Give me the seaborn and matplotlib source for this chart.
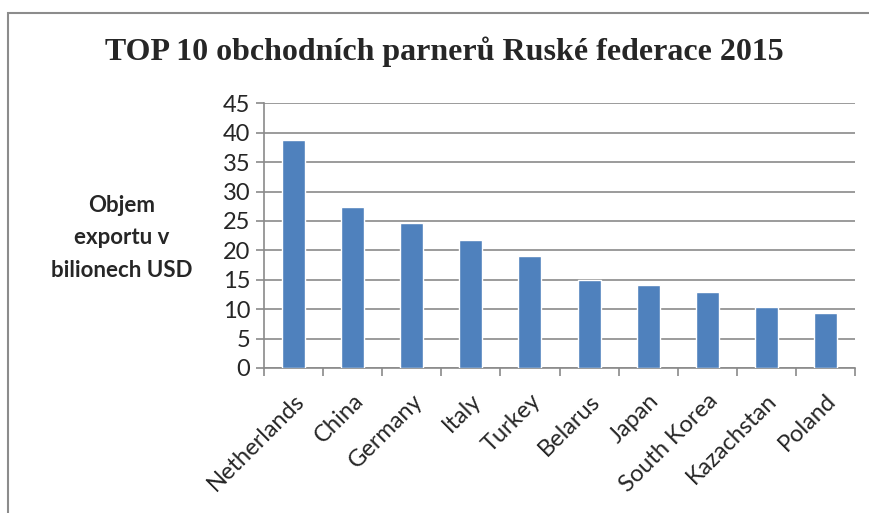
import matplotlib
matplotlib.use("Agg")
import matplotlib.pyplot as plt
import seaborn as sns
import pandas as pd
from matplotlib.patches import Rectangle

# data
countries = ["Netherlands", "China", "Germany", "Italy", "Turkey",
             "Belarus", "Japan", "South Korea", "Kazachstan", "Poland"]
export_bn = [38.7, 27.3, 24.6, 21.7, 19.1, 14.9, 14.1, 13.0, 10.4, 9.4]
y_ticks = [0, 5, 10, 15, 20, 25, 30, 35, 40, 45]

sns.set_theme(style="white")
plt.rcParams["font.family"] = ["Lato", "DejaVu Sans"]

df = pd.DataFrame({"country": countries, "value": export_bn})

fig = plt.figure(figsize=(8.7, 5.13), dpi=100)
ax = fig.add_axes([264 / 870, 1 - 368 / 513, 591 / 870, 264.7 / 513])

sns.barplot(data=df, x="country", y="value", color="#4F81BD", saturation=1,
            width=0.39, ax=ax, zorder=3)

ax.set_xlim(-0.5, len(countries) - 0.5)
ax.set_ylim(0, 45)
ax.set_yticks(y_ticks)
ax.set_yticklabels([str(t) for t in y_ticks], fontsize=17)
ax.yaxis.grid(True, color="#8a8a8a", linewidth=1.2, zorder=0)

# category boundary ticks below the axis
ax.set_xticks([i - 0.5 for i in range(len(countries) + 1)], minor=True)
ax.tick_params(axis="x", which="minor", length=6, width=1.2, color="#8a8a8a", bottom=True)
ax.set_xticks(range(len(countries)))
ax.set_xticklabels(countries, rotation=45, ha="right", va="top",
                   rotation_mode="anchor", fontsize=17)
ax.tick_params(axis="x", which="major", length=0, pad=16)
ax.tick_params(axis="y", length=6, width=1.2, color="#8a8a8a", left=True, pad=4)

for side in ["top", "right"]:
    ax.spines[side].set_visible(False)
for side in ["left", "bottom"]:
    ax.spines[side].set_color("#8a8a8a")
    ax.spines[side].set_linewidth(1.2)

ax.set_xlabel("")
ax.set_ylabel("")
fig.text(122 / 870, 1 - 238 / 513, "Objem\nexportu v\nbilionech USD", ha="center", va="center",
         fontsize=16, fontweight="bold", linespacing=1.7)

fig.text(444 / 870, 1 - 52 / 513, "TOP 10 obchodních parnerů Ruské federace 2015",
         ha="center", va="center", fontsize=23, fontweight="bold",
         family=["Liberation Serif", "DejaVu Serif"])

# outer chart frame, running off the right and bottom edges
fig.patches.append(Rectangle((8 / 870, -0.05), 1.0, 1.05 - 13 / 513,
                             transform=fig.transFigure, fill=False,
                             edgecolor="#8c8c8c", linewidth=1.5))

fig.savefig("out.png", dpi=100)
